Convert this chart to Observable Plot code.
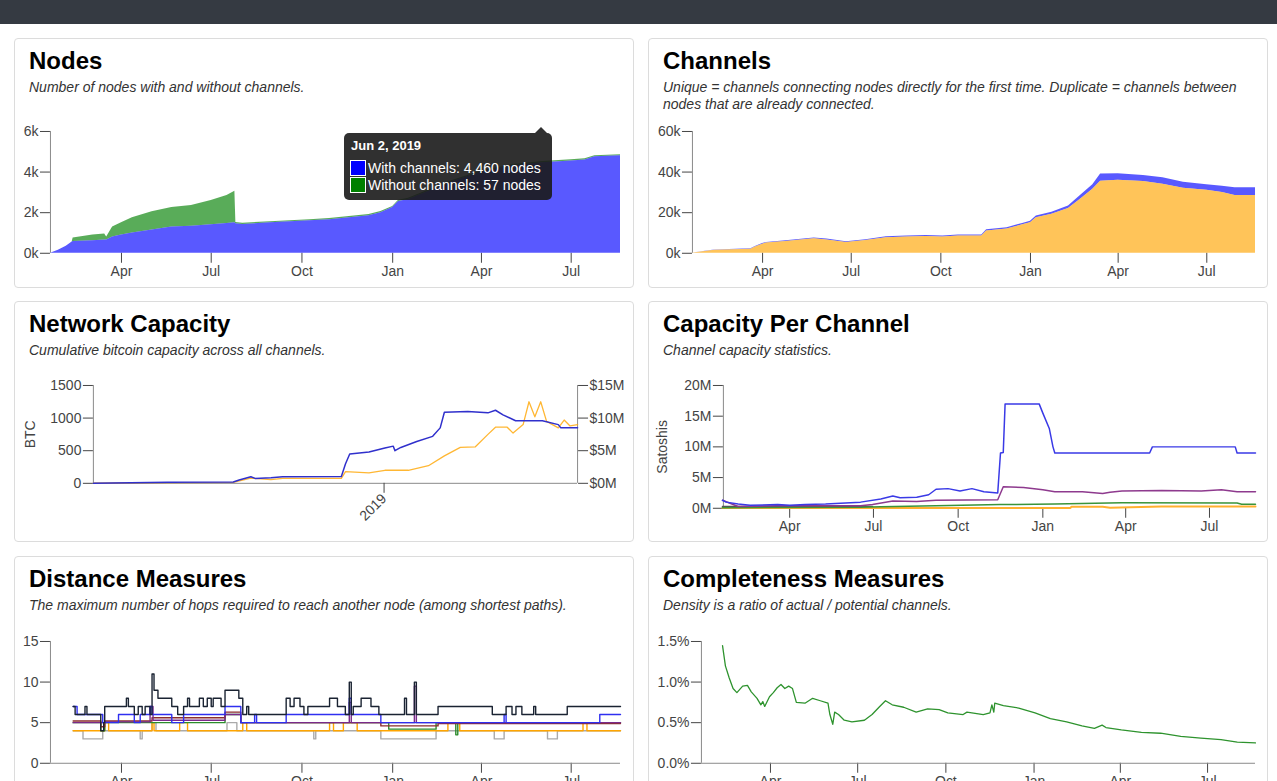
<!DOCTYPE html>
<html>
<head>
<meta charset="utf-8">
<script src="https://cdn.jsdelivr.net/npm/d3@7"></script>
<script src="https://cdn.jsdelivr.net/npm/@observablehq/plot@0.6"></script>
<style>
html, body { margin:0; padding:0; width:1277px; height:781px; overflow:hidden; background:#fff; font-family:"Liberation Sans", Arial, sans-serif; }
#topbar { position:absolute; left:0; top:0; width:1277px; height:24px; background:#353a42; }
.panel { position:absolute; box-sizing:border-box; width:620px; border:1px solid #dcdcdc; border-radius:4px; background:#fff; overflow:hidden; }
.panel h2 { position:absolute; left:14px; top:7px; margin:0; font-size:24px; line-height:29px; font-weight:bold; color:#000; white-space:nowrap; }
.panel p { position:absolute; left:14px; top:40px; margin:0; font-size:14px; line-height:17px; font-style:italic; color:#333; width:604px; white-space:nowrap; }
.chart { position:absolute; left:-1px; }
.chart svg { overflow:visible; }
#tip { position:absolute; left:329px; top:94px; width:208px; height:67px; background:rgba(25,25,25,0.9); border-radius:5px; color:#fff; font-size:14px; z-index:5; }
#tip:after { content:""; position:absolute; left:191px; top:-6px; border-left:6px solid transparent; border-right:6px solid transparent; border-bottom:6px solid rgba(25,25,25,0.9); }
#tip .t { position:absolute; left:7px; top:5px; font-weight:bold; font-size:13px; line-height:16px; }
#tip .row { position:absolute; left:6px; height:16px; line-height:16px; white-space:nowrap; }
#tip .sw { display:inline-block; width:14px; height:14px; border:1px solid #fff; vertical-align:top; margin-right:2px; }
</style>
</head>
<body>
<div id="topbar"></div>

<div class="panel" style="left:14px;top:38px;height:250px">
  <h2>Nodes</h2>
  <p>Number of nodes with and without channels.</p>
  <div class="chart" id="c1" style="top:81px"></div>
  <div id="tip">
    <div class="t" id="tipDate"></div>
    <div class="row" style="top:27px"><span class="sw" style="background:#0000ff"></span><span id="tipWith"></span></div>
    <div class="row" style="top:44px"><span class="sw" style="background:#008000"></span><span id="tipWithout"></span></div>
  </div>
</div>

<div class="panel" style="left:648px;top:38px;height:250px">
  <h2>Channels</h2>
  <p>Unique = channels connecting nodes directly for the first time. Duplicate = channels between<br>nodes that are already connected.</p>
  <div class="chart" id="c2" style="top:81px"></div>
</div>

<div class="panel" style="left:14px;top:301px;height:241px">
  <h2>Network Capacity</h2>
  <p>Cumulative bitcoin capacity across all channels.</p>
  <div class="chart" id="c3" style="top:70px"></div>
</div>

<div class="panel" style="left:648px;top:301px;height:241px">
  <h2>Capacity Per Channel</h2>
  <p>Channel capacity statistics.</p>
  <div class="chart" id="c4" style="top:70px"></div>
</div>

<div class="panel" style="left:14px;top:556px;height:260px">
  <h2>Distance Measures</h2>
  <p>The maximum number of hops required to reach another node (among shortest paths).</p>
  <div class="chart" id="c5" style="top:71px"></div>
</div>

<div class="panel" style="left:648px;top:556px;height:260px">
  <h2>Completeness Measures</h2>
  <p>Density is a ratio of actual / potential channels.</p>
  <div class="chart" id="c6" style="top:71px"></div>
</div>

<script>
// ---------- shared time axis ----------
const domainDates = ["2018-01-19", "2019-08-20"];
const monthTickDates = ["2018-04-01","2018-07-01","2018-10-01","2019-01-01","2019-04-01","2019-07-01"];
const yearTickDates = ["2019-01-01"];

// ---------- Nodes ----------
const nodeDates = ["2018-01-19","2018-01-27","2018-02-04","2018-02-10","2018-02-11","2018-03-03","2018-03-15","2018-03-17","2018-03-23","2018-04-01","2018-04-12","2018-05-02","2018-05-22","2018-06-11","2018-07-01","2018-07-17","2018-07-25","2018-07-26","2018-08-02","2018-08-30","2018-09-19","2018-10-09","2018-10-29","2018-11-18","2018-12-08","2018-12-20","2019-01-01","2019-01-07","2019-01-17","2019-02-01","2019-03-01","2019-04-01","2019-05-01","2019-06-02","2019-07-01","2019-07-15","2019-07-25","2019-08-20"];
const nodesWithChannels = [0,150,350,560,580,620,650,650,800,900,1000,1150,1300,1330,1400,1470,1500,1460,1420,1500,1550,1600,1650,1750,1850,2000,2250,2550,2650,2950,3500,4000,4300,4460,4550,4600,4750,4800];
const nodesWithoutChannels = [0,0,0,0,170,280,300,150,500,600,750,900,950,1020,1200,1380,1550,57,57,57,57,57,57,57,57,57,57,57,57,57,57,57,57,57,57,57,57,57];
const nodesTicks = [0,2000,4000,6000];
const tooltipDate = "2019-06-02";

// ---------- Channels ----------
const channelDates = ["2018-01-18","2018-02-03","2018-02-11","2018-03-20","2018-03-24","2018-04-01","2018-04-05","2018-04-25","2018-05-16","2018-05-24","2018-06-06","2018-06-26","2018-07-01","2018-07-16","2018-08-06","2018-08-27","2018-09-16","2018-10-03","2018-10-19","2018-11-12","2018-11-17","2018-12-08","2018-12-24","2019-01-01","2019-01-07","2019-01-23","2019-02-09","2019-02-21","2019-03-06","2019-03-14","2019-04-01","2019-04-27","2019-05-17","2019-06-07","2019-07-01","2019-07-17","2019-07-30","2019-08-20"];
const uniqueChannels = [0,1000,1500,2000,3000,4500,5000,5800,6800,7100,6600,5300,5500,6300,7700,8000,8300,8000,8500,8500,11000,12000,14000,15000,17500,19200,22000,26500,31500,35500,36000,35300,34000,32000,31000,30000,28500,28500];
const duplicateChannels = [0,100,100,200,200,300,300,400,400,400,400,400,400,400,500,500,500,500,500,500,600,600,700,800,900,1000,1300,1800,2200,3500,3200,3000,3200,3000,2800,3000,3800,3800];
const channelTicks = [0,20000,40000,60000];

// ---------- Network capacity ----------
const capacityBTC = [["2018-01-19",2],["2018-04-18",15],["2018-07-05",20],["2018-07-12",50],["2018-07-26",100],["2018-07-31",75],["2018-08-19",85],["2018-09-02",100],["2018-11-11",105],["2018-11-16",300],["2018-11-21",450],["2018-12-14",480],["2019-01-02",540],["2019-01-12",570],["2019-01-14",500],["2019-01-21",550],["2019-02-09",640],["2019-02-28",720],["2019-03-09",850],["2019-03-14",1090],["2019-04-11",1100],["2019-05-05",1080],["2019-05-14",1120],["2019-05-23",1050],["2019-06-07",960],["2019-07-09",960],["2019-07-28",900],["2019-07-31",850],["2019-08-20",850]];
const capacityUSDmillions = [["2018-01-19",0.02],["2018-04-18",0.12],["2018-07-05",0.15],["2018-07-26",0.8],["2018-08-19",0.55],["2018-09-02",0.75],["2018-11-11",0.75],["2018-11-16",1.8],["2018-12-14",1.6],["2019-01-02",2.0],["2019-01-30",2.0],["2019-02-23",2.7],["2019-03-14",4.2],["2019-04-02",5.5],["2019-04-20",5.6],["2019-05-05",7.5],["2019-05-14",8.6],["2019-05-28",8.6],["2019-06-04",7.7],["2019-06-16",9.0],["2019-06-23",12.5],["2019-06-30",10.2],["2019-07-07",12.5],["2019-07-14",9.5],["2019-07-28",8.5],["2019-08-04",9.7],["2019-08-11",8.8],["2019-08-20",9.0]];
const btcTicks = [0,500,1000,1500];
const usdTicksMillions = [0,5,10,15];
const btcPerMillionUSD = 100; // right axis: $15M sits at 1500 on the BTC axis

// ---------- Capacity per channel (millions of satoshis) ----------
const perChannelBlue = [["2018-01-18",1.3],["2018-01-22",1.0],["2018-02-04",0.7],["2018-02-17",0.5],["2018-03-19",0.6],["2018-04-01",0.5],["2018-04-18",0.6],["2018-05-10",0.7],["2018-06-17",1.0],["2018-07-09",1.5],["2018-07-22",2.0],["2018-07-30",1.7],["2018-08-17",1.8],["2018-08-30",2.2],["2018-09-07",3.1],["2018-09-20",3.2],["2018-10-03",2.8],["2018-10-16",3.2],["2018-10-29",2.7],["2018-11-13",2.5],["2018-11-16",9.0],["2018-11-19",9.1],["2018-11-21",17],["2018-12-28",17],["2019-01-01",15.5],["2019-01-08",13],["2019-01-12",10],["2019-01-14",9],["2019-04-27",9],["2019-04-30",10],["2019-07-29",10],["2019-07-31",9],["2019-08-20",9]];
const perChannelPurple = [["2018-01-18",1.3],["2018-02-04",0.3],["2018-03-19",0.4],["2018-06-17",0.4],["2018-06-30",0.6],["2018-07-22",1.2],["2018-08-17",1.1],["2018-09-07",1.3],["2018-11-13",1.4],["2018-11-19",3.5],["2018-12-11",3.4],["2019-01-01",3.0],["2019-01-14",2.7],["2019-02-13",2.7],["2019-03-07",2.4],["2019-03-15",2.6],["2019-03-28",2.8],["2019-05-10",2.9],["2019-06-22",2.8],["2019-07-14",3.0],["2019-07-31",2.7],["2019-08-20",2.7]];
const perChannelGreen = [["2018-01-18",0.1],["2018-06-17",0.15],["2018-07-09",0.25],["2018-09-07",0.4],["2018-11-16",0.6],["2019-01-14",0.7],["2019-03-28",0.9],["2019-07-31",0.85],["2019-08-05",0.65],["2019-08-20",0.65]];
const perChannelOrange = [["2018-01-18",0.05],["2019-01-31",0.05],["2019-02-01",0.25],["2019-03-07",0.25],["2019-03-15",0.1],["2019-05-10",0.3],["2019-08-20",0.3]];
const perChannelDark = [["2018-01-18",0.3],["2018-06-30",0.3]];
const satoshiTicks = [0,5,10,15,20];

// ---------- Distance measures ----------
const distDark = [["2018-02-11",7],["2018-02-13",6],["2018-02-23",7],["2018-02-25",6],["2018-03-11",4],["2018-03-14",5],["2018-03-15",7],["2018-04-06",8],["2018-04-08",7],["2018-04-14",6],["2018-04-18",7],["2018-04-22",6],["2018-04-25",7],["2018-04-30",6],["2018-05-02",11],["2018-05-04",9],["2018-05-08",8],["2018-05-22",7],["2018-05-28",6],["2018-06-03",7],["2018-06-07",8],["2018-06-09",7],["2018-06-19",8],["2018-06-23",7],["2018-06-27",8],["2018-07-01",7],["2018-07-03",8],["2018-07-11",7],["2018-07-15",9],["2018-07-29",8],["2018-08-02",6],["2018-08-06",7],["2018-08-08",6],["2018-09-15",8],["2018-09-19",7],["2018-09-23",8],["2018-09-29",7],["2018-10-03",6],["2018-10-07",7],["2018-10-29",8],["2018-11-06",7],["2018-11-14",6],["2018-11-18",10],["2018-11-20",6],["2018-11-22",7],["2018-11-30",8],["2018-12-10",7],["2018-12-18",6],["2019-01-13",8],["2019-01-15",6],["2019-01-23",10],["2019-01-25",6],["2019-02-16",7],["2019-04-12",6],["2019-04-26",7],["2019-05-02",6],["2019-05-06",7],["2019-05-12",6],["2019-05-24",7],["2019-05-26",6],["2019-06-27",7],["2019-08-20",7]];
const distBlue = [["2018-02-11",7],["2018-02-15",6],["2018-03-13",5],["2018-03-29",6],["2018-04-14",5],["2018-04-20",6],["2018-04-30",7],["2018-05-02",6],["2018-05-22",5],["2018-06-03",6],["2018-07-15",7],["2018-07-31",5],["2018-08-14",6],["2018-08-16",5],["2018-09-15",6],["2018-11-18",8],["2018-11-20",6],["2018-12-20",5],["2019-04-24",6],["2019-04-26",5],["2019-07-30",6],["2019-08-20",6]];
const distPurple = [["2018-02-11",5],["2018-03-15",5.1],["2018-04-30",7],["2018-05-03",5.3],["2018-07-15",6.0],["2018-07-31",5.0],["2018-11-18",7.5],["2018-11-20",5.0],["2019-01-23",9.5],["2019-01-25",5.0],["2019-08-20",5.0]];
const distBrown = [["2018-02-11",5.2],["2018-03-11",4.5],["2018-03-15",5.2],["2018-05-02",5.6],["2018-07-15",6.3],["2018-07-31",5.0],["2018-12-20",4.6],["2019-02-16",4.9],["2019-08-20",4.9]];
const distGreen = [["2018-02-11",5],["2018-03-11",4],["2018-03-15",5],["2018-07-15",6],["2018-07-31",5],["2018-12-28",4.2],["2019-02-14",5],["2019-03-06",3.5],["2019-03-08",5],["2019-08-20",5]];
const distOrange = [["2018-02-11",4],["2018-03-15",5],["2018-03-19",4],["2018-05-02",5],["2018-05-04",4],["2018-05-30",5],["2018-06-07",4],["2018-08-02",5],["2018-08-06",4],["2018-10-29",5],["2018-11-02",4],["2018-11-12",5],["2018-11-26",4],["2019-02-26",5],["2019-03-10",4],["2019-07-13",5],["2019-07-17",4],["2019-08-20",4]];
const distGray = [["2018-02-11",4],["2018-02-21",3],["2018-03-13",4],["2018-04-20",3],["2018-04-22",4],["2018-05-02",5],["2018-05-06",4],["2018-07-17",5],["2018-07-27",4],["2018-10-13",3],["2018-10-15",4],["2018-12-20",3],["2019-02-14",4],["2019-04-14",3],["2019-04-24",4],["2019-06-07",3],["2019-06-17",4],["2019-08-20",4]];
const distTicks = [0,5,10,15];

// ---------- Completeness (density, percent) ----------
const densityPercent = [["2018-02-10",1.45],["2018-02-13",1.2],["2018-02-17",1.05],["2018-02-21",0.92],["2018-02-25",0.87],["2018-03-03",0.95],["2018-03-08",0.96],["2018-03-12",0.88],["2018-03-18",0.8],["2018-03-22",0.72],["2018-03-24",0.76],["2018-03-26",0.7],["2018-03-31",0.82],["2018-04-04",0.87],["2018-04-08",0.93],["2018-04-12",0.97],["2018-04-16",0.92],["2018-04-20",0.95],["2018-04-24",0.92],["2018-04-28",0.75],["2018-05-07",0.74],["2018-05-15",0.8],["2018-05-23",0.77],["2018-05-31",0.74],["2018-06-02",0.6],["2018-06-05",0.48],["2018-06-07",0.63],["2018-06-11",0.6],["2018-06-17",0.53],["2018-06-25",0.51],["2018-07-08",0.53],["2018-07-16",0.6],["2018-07-24",0.7],["2018-07-30",0.77],["2018-08-06",0.72],["2018-08-18",0.69],["2018-08-31",0.63],["2018-09-12",0.67],["2018-09-24",0.66],["2018-10-03",0.62],["2018-10-19",0.6],["2018-10-23",0.63],["2018-11-09",0.6],["2018-11-16",0.62],["2018-11-18",0.72],["2018-11-20",0.63],["2018-11-21",0.74],["2018-11-30",0.71],["2018-12-16",0.68],["2019-01-02",0.62],["2019-01-18",0.55],["2019-02-04",0.51],["2019-02-20",0.46],["2019-03-05",0.43],["2019-03-13",0.47],["2019-03-17",0.44],["2019-04-02",0.41],["2019-04-23",0.38],["2019-05-13",0.37],["2019-06-03",0.33],["2019-06-24",0.31],["2019-07-15",0.29],["2019-08-01",0.26],["2019-08-20",0.25]];
const densityTicks = [0,0.5,1.0,1.5];

// ---------- build ----------
const parse = d3.utcParse("%Y-%m-%d");
const xDomain = domainDates.map(parse);
const monthTicks = monthTickDates.map(parse);
const pairs = arr => arr.map(([d, v]) => ({date: parse(d), value: v}));
const baseStyle = {fontFamily: '"Liberation Sans", Arial, sans-serif', fontSize: "14px", color: "#444", background: "transparent", overflow: "visible"};
const axisLine = "#8a8a8a";
const xMonths = {type: "utc", domain: xDomain, ticks: monthTicks, tickFormat: d3.utcFormat("%b"), label: null, tickSize: 10, tickPadding: 3};
const yAxisOpts = {tickSize: 10, tickPadding: 2};

function yLine(top) { return Plot.ruleX([xDomain[0]], {x: d => d, y1: () => 0, y2: () => top, stroke: axisLine}); }

// Nodes
const nodeRows = nodeDates.map((d, i) => ({date: parse(d), w: nodesWithChannels[i], wo: nodesWithoutChannels[i]}));
document.getElementById("c1").append(Plot.plot({
  width: 620, height: 165, marginTop: 11, marginBottom: 32, marginLeft: 36, marginRight: 13,
  style: baseStyle,
  x: xMonths,
  y: {domain: [0, 6000], ticks: nodesTicks, tickFormat: d => d / 1000 + "k", label: null, ...yAxisOpts},
  marks: [
    Plot.areaY(nodeRows, {x: "date", y1: d => d.w, y2: d => d.w + d.wo, fill: "green", fillOpacity: 0.65}),
    Plot.areaY(nodeRows, {x: "date", y1: () => 0, y2: d => d.w, fill: "blue", fillOpacity: 0.65}),
    yLine(6000)
  ]
}));
const ti = nodeDates.indexOf(tooltipDate);
document.getElementById("tipDate").textContent = d3.utcFormat("%b %-d, %Y")(parse(tooltipDate));
document.getElementById("tipWith").textContent = "With channels: " + d3.format(",")(nodesWithChannels[ti]) + " nodes";
document.getElementById("tipWithout").textContent = "Without channels: " + d3.format(",")(nodesWithoutChannels[ti]) + " nodes";

// Channels
const chRows = channelDates.map((d, i) => ({date: parse(d), u: uniqueChannels[i], dup: duplicateChannels[i]}));
document.getElementById("c2").append(Plot.plot({
  width: 620, height: 165, marginTop: 11, marginBottom: 32, marginLeft: 44, marginRight: 12,
  style: baseStyle,
  x: xMonths,
  y: {domain: [0, 60000], ticks: channelTicks, tickFormat: d => d / 1000 + "k", label: null, ...yAxisOpts},
  marks: [
    Plot.areaY(chRows, {x: "date", y1: d => d.u, y2: d => d.u + d.dup, fill: "blue", fillOpacity: 0.65}),
    Plot.areaY(chRows, {x: "date", y1: () => 0, y2: d => d.u, fill: "orange", fillOpacity: 0.65}),
    yLine(60000)
  ]
}));

// Network capacity
document.getElementById("c3").append(Plot.plot({
  width: 620, height: 168, marginTop: 13, marginBottom: 57, marginLeft: 79, marginRight: 56,
  style: baseStyle,
  x: {type: "utc", domain: xDomain},
  y: {domain: [0, 1500]},
  marks: [
    Plot.ruleY([0], {stroke: axisLine}),
    yLine(1500),
    Plot.ruleX([xDomain[1]], {x: d => d, y1: () => 0, y2: () => 1500, stroke: axisLine}),
    Plot.axisX({ticks: yearTickDates.map(parse), tickFormat: d3.utcFormat("%Y"), tickRotate: -45, label: null, tickSize: 10, tickPadding: 3}),
    Plot.axisY({anchor: "left", ticks: btcTicks, tickFormat: d => String(d), label: "BTC", labelAnchor: "center", labelArrow: "none", labelOffset: 68, ...yAxisOpts}),
    Plot.axisY({anchor: "right", ticks: usdTicksMillions.map(m => m * btcPerMillionUSD), tickFormat: d => "$" + d / btcPerMillionUSD + "M", label: null, ...yAxisOpts}),
    Plot.line(pairs(capacityUSDmillions), {x: "date", y: d => d.value * btcPerMillionUSD, stroke: "#ffa500", strokeOpacity: 0.8, strokeWidth: 1.3}),
    Plot.line(pairs(capacityBTC), {x: "date", y: "value", stroke: "#3030cc", strokeWidth: 1.5})
  ]
}));

// Capacity per channel
document.getElementById("c4").append(Plot.plot({
  width: 620, height: 168, marginTop: 13, marginBottom: 32, marginLeft: 75, marginRight: 12,
  style: baseStyle,
  x: xMonths,
  y: {domain: [0, 20], ticks: satoshiTicks, tickFormat: d => d + "M", label: "Satoshis", labelAnchor: "center", labelArrow: "none", labelOffset: 66, ...yAxisOpts},
  marks: [
    yLine(20),
    Plot.line(pairs(perChannelDark), {x: "date", y: "value", stroke: "#555", strokeWidth: 1.5}),
    Plot.line(pairs(perChannelOrange), {x: "date", y: "value", stroke: "#ffb02e", strokeWidth: 2}),
    Plot.line(pairs(perChannelGreen), {x: "date", y: "value", stroke: "#3a943a", strokeWidth: 1.5}),
    Plot.line(pairs(perChannelPurple), {x: "date", y: "value", stroke: "#8e3a8e", strokeWidth: 1.5}),
    Plot.line(pairs(perChannelBlue), {x: "date", y: "value", stroke: "#3a3ae6", strokeWidth: 1.5})
  ]
}));

// Distance measures
const distSeries = [[distGray, "#aaaaaa"], [distOrange, "#ffa500"], [distGreen, "#2c8c2c"], [distBrown, "#8b2d2d"], [distPurple, "#7a2a8a"], [distBlue, "#2f2ff0"], [distDark, "#1a2332"]];
document.getElementById("c5").append(Plot.plot({
  width: 620, height: 165, marginTop: 13, marginBottom: 30, marginLeft: 36, marginRight: 13,
  style: baseStyle,
  x: xMonths,
  y: {domain: [0, 15], ticks: distTicks, label: null, ...yAxisOpts},
  marks: [
    Plot.ruleY([0], {stroke: axisLine}),
    yLine(15),
    ...distSeries.map(([s, c]) => Plot.line(pairs(s), {x: "date", y: "value", stroke: c, strokeWidth: 1.4, curve: "step-after"}))
  ]
}));

// Completeness
document.getElementById("c6").append(Plot.plot({
  width: 620, height: 165, marginTop: 13, marginBottom: 30, marginLeft: 53, marginRight: 12,
  style: baseStyle,
  x: xMonths,
  y: {domain: [0, 1.5], ticks: densityTicks, tickFormat: d => d.toFixed(1) + "%", label: null, ...yAxisOpts},
  marks: [
    Plot.ruleY([0], {stroke: axisLine}),
    yLine(1.5),
    Plot.line(pairs(densityPercent), {x: "date", y: "value", stroke: "#2e932e", strokeWidth: 1.3})
  ]
}));
</script>
</body>
</html>
